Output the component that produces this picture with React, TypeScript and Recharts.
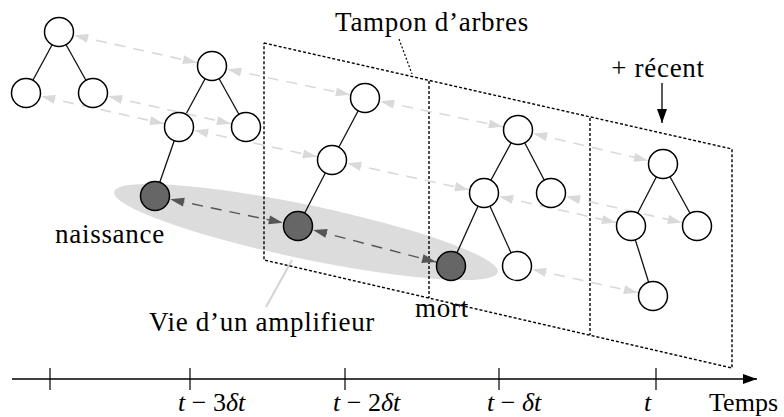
import { ComposedChart, XAxis, YAxis, Line, Scatter } from 'recharts'

// node centres of the five trees, in picture units (x right, y down)
const T1 = [[59, 32], [26, 93], [93, 93]]
const T2 = [[212, 66], [179, 127], [246, 127], [155, 196]]
const T3 = [[365, 98], [332, 160], [298, 226]]
const T4 = [[518, 130], [484, 193], [551, 193], [451, 266], [517, 266]]
const T5 = [[663, 164], [631, 226], [697, 226], [653, 296]]
const TREES = [T1, T2, T3, T4, T5]

// parent -> child, as indexes inside each tree
const TREE_EDGES = [
  [[0, 1], [0, 2]],
  [[0, 1], [0, 2], [1, 3]],
  [[0, 1], [1, 2]],
  [[0, 1], [0, 2], [1, 3], [1, 4]],
  [[0, 1], [0, 2], [1, 3]],
]

// the amplifier's nodes: [tree, index]
const AMPLIFIER = [[1, 3], [2, 2], [3, 3]]

// same node in consecutive trees: [tree, index, index in next tree]
const LINKS = [
  [0, 0, 0], [0, 1, 1], [0, 2, 2],
  [1, 0, 0], [1, 1, 1],
  [2, 0, 0], [2, 1, 1],
  [3, 0, 0], [3, 1, 1], [3, 2, 2], [3, 4, 3],
]
const AMP_LINKS = [[1, 3, 2], [2, 2, 3]]

// dotted buffer outline and its two separators
const BUFFER = [[264, 43], [732, 149], [732, 368], [264, 260], [264, 43]]
const BUFFER_SPLITS = [
  [[429, 81], [429, 298]],
  [[590, 118], [590, 335]],
]
const BUFFER_LEADER = [[399, 39], [412, 74]]
const LIFE_LEADER = [[292, 260], [266, 307]]
const RECENT_ARROW = [[662, 83], [662, 123]]
const TIME_AXIS = [[12, 379], [757, 379]]
const LIFE_CENTER = [{ x: 306, y: 232 }]

const TIME_TICKS = [50, 190, 345, 499, 656]
const TIME_LABELS = ['', 't − 3δt', 't − 2δt', 't − δt', 't']

const NOTES = [
  { x: 432, y: 31, text: 'Tampon d’arbres' },
  { x: 658, y: 77, text: '+ récent' },
  { x: 110, y: 243, text: 'naissance' },
  { x: 262, y: 331, text: 'Vie d’un amplifieur' },
  { x: 442, y: 317, text: 'mort' },
]

const FONT = '"Liberation Serif", "DejaVu Serif", serif'
const R = 14.5

const pts = (arr: number[][]) => arr.map(([x, y]) => ({ x, y }))

const isAmp = (t: number, i: number) => AMPLIFIER.some(([a, b]) => a === t && b === i)

const NODES = TREES.flatMap((tree, t) => tree.map(([x, y], i) => ({ x, y, amp: isAmp(t, i) })))

const headDot = (fill: string, gap: number, len: number, half: number, both: boolean) => (props: any) => {
  const { cx, cy, index, points, key } = props
  if (!points || points.length < 2) return <g key={key} />
  const last = points.length - 1
  if (!both && index !== last) return <g key={key} />
  if (index !== 0 && index !== last) return <g key={key} />
  const o = points[index === 0 ? 1 : index - 1]
  const dx = o.x - cx
  const dy = o.y - cy
  const d = Math.hypot(dx, dy) || 1
  const ux = dx / d
  const uy = dy / d
  const tx = cx + ux * gap
  const ty = cy + uy * gap
  const bx = tx + ux * len
  const by = ty + uy * len
  return (
    <polygon
      key={key}
      points={`${tx},${ty} ${bx - uy * half},${by + ux * half} ${bx + uy * half},${by - ux * half}`}
      fill={fill}
    />
  )
}

const mathRuns = (s: string) =>
  s
    .split(/([tδ]+)/)
    .filter(Boolean)
    .map((r, i) => (
      <tspan key={i} fontStyle={/[tδ]/.test(r) ? 'italic' : 'normal'}>
        {r}
      </tspan>
    ))

function TimeTick(props: any) {
  const { x, y, payload } = props
  const label = TIME_LABELS[TIME_TICKS.indexOf(payload.value)] || ''
  return (
    <g>
      <line x1={x} x2={x} y1={y - 11} y2={y + 11} stroke="#000" strokeWidth={1.2} />
      <text x={x - 12} y={y + 32} style={{ fontFamily: FONT }} fontSize={26} fill="#000">
        {mathRuns(label)}
      </text>
    </g>
  )
}

const lineBase = {
  dataKey: 'y',
  type: 'linear' as const,
  isAnimationActive: false,
  activeDot: false,
  legendType: 'none' as const,
}

export default function App() {
  const lightHead = headDot('#d9d9d9', R + 1, 14, 4.5, true)
  const darkHead = headDot('#555', R + 1, 14, 4.5, true)
  const blackHead = headDot('#000', 0, 14, 5, false)

  return (
    <div>
      <style>{'body{margin:0}'}</style>
      <ComposedChart width={784} height={417} margin={{ top: 0, right: 0, bottom: 0, left: 0 }}>
        <XAxis
          type="number"
          dataKey="x"
          domain={[0, 784]}
          ticks={TIME_TICKS}
          interval={0}
          axisLine={false}
          tickLine={false}
          tickSize={0}
          tickMargin={0}
          height={38}
          tick={<TimeTick />}
          label={{ value: 'Temps', position: 'insideBottomRight', offset: 6, fill: '#000', fontSize: 26, style: { fontFamily: FONT } }}
        />
        <YAxis type="number" dataKey="y" domain={[0, 379]} reversed hide />

        <Scatter
          data={LIFE_CENTER}
          dataKey="y"
          isAnimationActive={false}
          zIndex={50}
          shape={(p: any) => (
            <ellipse
              cx={p.cx}
              cy={p.cy}
              rx={196}
              ry={27}
              fill="#dcdcdc"
              transform={`rotate(11.8 ${p.cx} ${p.cy})`}
            />
          )}
        />

        <Line {...lineBase} data={pts(LIFE_LEADER)} stroke="#d4d4d4" strokeWidth={2} dot={false} />

        {/* dotted buffer */}
        <Line {...lineBase} data={pts(BUFFER)} stroke="#000" strokeWidth={1.4} strokeDasharray="3 2" dot={false} />
        {BUFFER_SPLITS.map((s, i) => (
          <Line key={`split-${i}`} {...lineBase} data={pts(s)} stroke="#000" strokeWidth={1.4} strokeDasharray="3 2" dot={false} />
        ))}
        <Line {...lineBase} data={pts(BUFFER_LEADER)} stroke="#000" strokeWidth={1.2} strokeDasharray="2 2" dot={false} />

        {/* tree edges */}
        {TREE_EDGES.flatMap((edges, t) =>
          edges.map(([a, b]) => (
            <Line
              key={`edge-${t}-${a}-${b}`}
              {...lineBase}
              data={pts([TREES[t][a], TREES[t][b]])}
              stroke="#111"
              strokeWidth={1.3}
              dot={false}
            />
          )),
        )}

        {/* links between trees */}
        {LINKS.map(([t, a, b]) => (
          <Line
            key={`link-${t}-${a}`}
            {...lineBase}
            data={pts([TREES[t][a], TREES[t + 1][b]])}
            stroke="#d9d9d9"
            strokeWidth={1.6}
            strokeDasharray="11 8"
            dot={lightHead}
          />
        ))}
        {AMP_LINKS.map(([t, a, b]) => (
          <Line
            key={`amp-${t}-${a}`}
            {...lineBase}
            data={pts([TREES[t][a], TREES[t + 1][b]])}
            stroke="#555"
            strokeWidth={1.4}
            strokeDasharray="11 8"
            dot={darkHead}
          />
        ))}

        <Line {...lineBase} data={pts(RECENT_ARROW)} stroke="#000" strokeWidth={1.3} dot={blackHead} />
        <Line {...lineBase} data={pts(TIME_AXIS)} stroke="#000" strokeWidth={1.3} dot={blackHead} />

        <Scatter
          data={NODES}
          dataKey="y"
          isAnimationActive={false}
          shape={(p: any) => (
            <circle cx={p.cx} cy={p.cy} r={R} fill={p.payload.amp ? '#666' : '#fff'} stroke="#000" strokeWidth={1.5} />
          )}
        />

        <Scatter
          data={NOTES}
          dataKey="y"
          isAnimationActive={false}
          zIndex={2000}
          shape={(p: any) => (
            <text
              x={p.cx}
              y={p.cy}
              textAnchor="middle"
              style={{ fontFamily: FONT }}
              fontSize={27}
              letterSpacing={0.7}
              fill="#000"
            >
              {p.payload.text}
            </text>
          )}
        />
      </ComposedChart>
    </div>
  )
}
